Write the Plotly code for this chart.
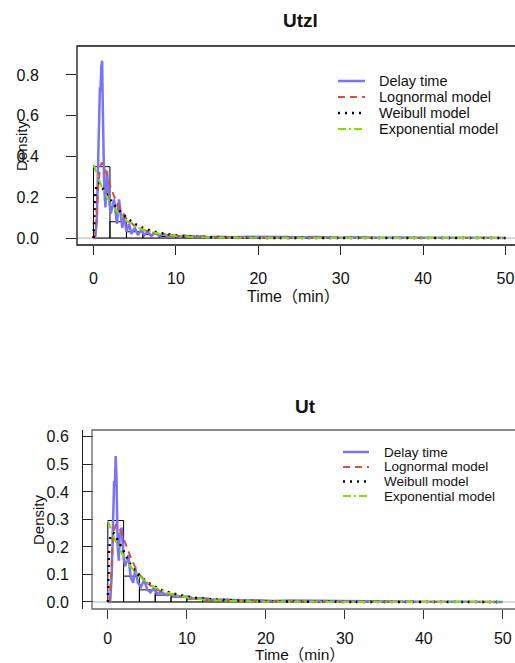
import plotly.graph_objects as go

W, H = 515, 663
OFF = 0  # body margin is removed in the page (see post_script)

# ---------------- data ----------------
bin_left = [0, 2, 4, 6, 8, 10, 12, 14, 16, 18, 20, 22, 24, 26, 28, 30, 32, 34, 36, 38, 40, 42, 44, 46, 48]

utzl_hist = [0.35, 0.08, 0.031, 0.018, 0.008, 0.005, 0.003, 0.002, 0.0015, 0.001, 0.001, 0.0008, 0.0006,
             0.0005, 0.0004, 0.0003, 0.0003, 0.0002, 0.0002, 0.0002, 0.0001, 0.0001, 0.0001, 0.0001, 0.0001]
ut_hist = [0.296, 0.094, 0.044, 0.025, 0.018, 0.011, 0.007, 0.005, 0.004, 0.003, 0.002, 0.0015, 0.0012,
           0.001, 0.0008, 0.0006, 0.0005, 0.0004, 0.0003, 0.0003, 0.0002, 0.0002, 0.0001, 0.0001, 0.0001]

utzl_delay_x = [0, 0.2, 0.4, 0.55, 0.7, 0.78, 0.85, 0.95, 1.05, 1.15, 1.3, 1.45, 1.65, 1.85, 2.1, 2.5, 2.85,
                3.1, 3.5, 3.7, 4.0, 4.3, 4.6, 5.0, 5.4, 5.8, 6.2, 6.6, 7.0, 7.5, 8.0, 8.5, 9.0, 9.5, 10.5,
                11, 12, 13, 14, 15, 17, 19, 21, 23, 25, 27, 30, 32, 35, 37, 40, 43, 45, 48, 50]
utzl_delay_y = [0, 0.0, 0.08, 0.3, 0.6, 0.74, 0.72, 0.84, 0.87, 0.6, 0.25, 0.15, 0.33, 0.2, 0.12, 0.19, 0.07,
                0.19, 0.05, 0.12, 0.03, 0.07, 0.02, 0.05, 0.015, 0.04, 0.015, 0.03, 0.01, 0.025, 0.01, 0.02,
                0.008, 0.015, 0.006, 0.012, 0.005, 0.008, 0.004, 0.007, 0.004, 0.006, 0.004, 0.005, 0.004,
                0.005, 0.002, 0.004, 0.001, 0.003, 0.001, 0.002, 0.0005, 0.001, 0.0]

utzl_logn_x = [0, 0.2, 0.4, 0.6, 0.8, 1.0, 1.3, 1.6, 2.0, 2.5, 3.0, 3.5, 4.0, 5.0, 6.0, 7, 8, 10, 12, 15, 20, 25, 30, 40, 50]
utzl_logn_y = [0, 0.01, 0.12, 0.27, 0.35, 0.37, 0.35, 0.31, 0.26, 0.205, 0.16, 0.125, 0.095, 0.06, 0.04, 0.028,
               0.02, 0.012, 0.008, 0.0045, 0.002, 0.001, 0.0006, 0.0002, 0.0001]

utzl_weib_x = [0, 0.1, 0.2, 0.35, 0.5, 0.7, 1.0, 1.5, 2.0, 2.5, 3.0, 4.0, 5.0, 6.0, 7.0, 8.0, 10, 12, 15, 20, 30, 50]
utzl_weib_y = [0, 0.12, 0.2, 0.25, 0.27, 0.27, 0.25, 0.22, 0.19, 0.165, 0.14, 0.1, 0.07, 0.05, 0.035, 0.025,
               0.013, 0.007, 0.003, 0.0008, 0.0001, 0.0]

utzl_exp_x = [0, 1, 2, 3, 4, 5, 6, 8, 10, 12, 15, 20, 30, 50]
utzl_exp_y = [0.36, 0.25, 0.175, 0.122, 0.085, 0.059, 0.041, 0.02, 0.0098, 0.0048, 0.0016, 0.0003, 0.0, 0.0]

ut_delay_x = [0, 0.3, 0.5, 0.65, 0.8, 0.9, 1.0, 1.1, 1.25, 1.4, 1.5, 1.75, 2.0, 2.2, 2.6, 2.9, 3.2, 3.5,
              3.8, 4.2, 4.6, 5.0, 5.4, 5.8, 6.3, 6.8, 7.5, 8.2, 9, 10, 11, 12, 13.5, 15, 17, 19, 21, 23, 26,
              28, 30, 32, 35, 38, 40, 45, 48, 50]
ut_delay_y = [0, 0.0, 0.1, 0.3, 0.44, 0.42, 0.53, 0.45, 0.2, 0.15, 0.24, 0.27, 0.16, 0.13, 0.17, 0.09, 0.07,
              0.12, 0.07, 0.055, 0.08, 0.045, 0.035, 0.05, 0.03, 0.035, 0.025, 0.028, 0.018, 0.02, 0.012,
              0.014, 0.008, 0.009, 0.005, 0.006, 0.004, 0.005, 0.004, 0.005, 0.002, 0.003, 0.001, 0.002,
              0.001, 0.0005, 0.001, 0.0]

ut_logn_x = [0, 0.2, 0.4, 0.6, 0.8, 1.0, 1.3, 1.6, 2.0, 2.5, 3.0, 3.5, 4.0, 5.0, 6.0, 7, 8, 10, 12, 15, 20, 25, 30, 40, 50]
ut_logn_y = [0, 0.005, 0.08, 0.2, 0.26, 0.28, 0.275, 0.26, 0.23, 0.19, 0.155, 0.125, 0.1, 0.068, 0.048, 0.035,
             0.027, 0.016, 0.01, 0.0055, 0.0025, 0.0012, 0.0007, 0.0003, 0.0001]

ut_weib_x = [0, 0.05, 0.15, 0.3, 0.5, 0.8, 1.2, 1.6, 2.0, 2.6, 3.0, 4.0, 5.0, 6.0, 7.0, 8.0, 10, 12, 15, 20, 25, 30, 40, 50]
ut_weib_y = [0, 0.1, 0.18, 0.23, 0.25, 0.25, 0.23, 0.205, 0.185, 0.15, 0.13, 0.095, 0.072, 0.055, 0.042, 0.033,
             0.02, 0.012, 0.006, 0.002, 0.0008, 0.0003, 0.0001, 0.0]

ut_exp_x = [0, 1, 2, 3, 4, 5, 6, 8, 10, 12, 15, 20, 30, 50]
ut_exp_y = [0.295, 0.22, 0.165, 0.125, 0.093, 0.07, 0.052, 0.029, 0.016, 0.009, 0.004, 0.001, 0.0001, 0.0]

x_ticks = [0, 10, 20, 30, 40, 50]
utzl_y_ticks = [0.0, 0.2, 0.4, 0.6, 0.8]
ut_y_ticks = [0.0, 0.1, 0.2, 0.3, 0.4, 0.5, 0.6]

series_names = ["Delay time", "Lognormal model", "Weibull model", "Exponential model"]

# ---------------- styles ----------------
BLUE = "#7b72fb"
RED = "#cf5340"
BLACK = "#000000"
GREEN = "#7ee000"
styles = [
    dict(color=BLUE, width=2.5, dash="solid"),
    dict(color=RED, width=2, dash="7px,5px"),
    dict(color=BLACK, width=2.5, dash="2px,5px"),
    dict(color=GREEN, width=2, dash="8px,3px,2px,3px"),
]
FONT = "Liberation Sans, Arial, Noto Sans CJK SC, sans-serif"


def px(xp):
    """page pixel x -> paper fraction"""
    return (xp - OFF) / W


def py(yp):
    """page pixel y -> paper fraction"""
    return (H - (yp - OFF)) / H


fig = go.Figure()

panels = [
    dict(xa="x", ya="y", hist=utzl_hist,
         curves=[(utzl_delay_x, utzl_delay_y), (utzl_logn_x, utzl_logn_y),
                 (utzl_weib_x, utzl_weib_y), (utzl_exp_x, utzl_exp_y)]),
    dict(xa="x2", ya="y2", hist=ut_hist,
         curves=[(ut_delay_x, ut_delay_y), (ut_logn_x, ut_logn_y),
                 (ut_weib_x, ut_weib_y), (ut_exp_x, ut_exp_y)]),
]

for p in panels:
    fig.add_trace(go.Bar(x=bin_left, y=p["hist"], offset=0, width=2, xaxis=p["xa"], yaxis=p["ya"],
                         marker=dict(color="rgba(0,0,0,0)", line=dict(color="black", width=1)),
                         showlegend=False, hoverinfo="skip"))
    for (cx, cy), st, nm in zip(p["curves"], styles, series_names):
        fig.add_trace(go.Scatter(x=cx, y=cy, mode="lines", name=nm, xaxis=p["xa"], yaxis=p["ya"],
                                 line=dict(color=st["color"], width=st["width"], dash=st["dash"]),
                                 showlegend=False))

# geometry (page pixels); the right edge of each box lies just past the picture
RIGHT = W + OFF
top = dict(left=77, top=46, bottom=245, xr=[-2, -2 + (RIGHT - 77) / 8.24], yr=[-0.034, 0.942])
bot = dict(left=92, top=430, bottom=609, xr=[-2, -2 + (RIGHT - 92) / 7.9], yr=[-0.0255, 0.625])

axis_font = dict(family=FONT, size=16, color="#111")

fig.update_layout(
    width=W, height=H, autosize=False,
    margin=dict(l=0, r=0, t=0, b=0, autoexpand=False),
    paper_bgcolor="white", plot_bgcolor="white",
    barmode="overlay", showlegend=False,
    xaxis=dict(domain=[px(top["left"]), 1], range=top["xr"], anchor="y", automargin=False,
               tickvals=x_ticks, ticks="outside", ticklen=9, tickcolor="#222", tickwidth=1,
               ticklabelstandoff=10, tickfont=axis_font, showgrid=False, zeroline=False, showline=False),
    yaxis=dict(domain=[py(top["bottom"]), py(top["top"])], range=top["yr"], anchor="x", automargin=False,
               tickvals=utzl_y_ticks, ticktext=[f"{v:.1f}" for v in utzl_y_ticks],
               ticks="outside", ticklen=10, tickcolor="#222", tickwidth=1,
               ticklabelstandoff=24, tickfont=axis_font, showgrid=False, zeroline=False, showline=False),
    xaxis2=dict(domain=[px(bot["left"]), 1], range=bot["xr"], anchor="y2", automargin=False,
                tickvals=x_ticks, ticks="outside", ticklen=9, tickcolor="#333", tickwidth=1,
                ticklabelstandoff=6, tickfont=axis_font, showgrid=False, zeroline=False, showline=False),
    yaxis2=dict(domain=[py(bot["bottom"]), py(bot["top"])], range=bot["yr"], anchor="free",
                position=px(82), side="left", automargin=False,
                tickvals=ut_y_ticks, ticktext=[f"{v:.1f}" for v in ut_y_ticks],
                ticks="inside", ticklen=10, tickcolor="#222", tickwidth=1,
                ticklabelstandoff=10, tickfont=axis_font, showgrid=False, zeroline=False,
                showline=True, linecolor="#222", linewidth=1),
)

shapes = []
# plot boxes (right edge lies outside the picture)
for g, col in ((top, "#111"), (bot, "#666")):
    shapes.append(dict(type="rect", xref="paper", yref="paper", x0=px(g["left"]), x1=1.05,
                       y0=py(g["bottom"]), y1=py(g["top"]), line=dict(color=col, width=1.3),
                       fillcolor="rgba(0,0,0,0)", layer="above"))
# zero lines
shapes.append(dict(type="line", xref="paper", yref="y", x0=px(top["left"]), x1=1, y0=0, y1=0,
                   line=dict(color="#b0b0b0", width=1), layer="below"))
shapes.append(dict(type="line", xref="paper", yref="y2", x0=px(bot["left"]), x1=1, y0=0, y1=0,
                   line=dict(color="#b0b0b0", width=1), layer="below"))

annotations = []
# manual legends
legends = [
    dict(x0=338, x1=365, tx=377, ys=[81, 97, 113, 129], size=14.5),
    dict(x0=343, x1=369, tx=382, ys=[452, 467, 481.5, 496], size=13.5),
]
for lg in legends:
    for st, nm, yy in zip(styles, series_names, lg["ys"]):
        shapes.append(dict(type="line", xref="paper", yref="paper", x0=px(lg["x0"]), x1=px(lg["x1"]),
                           y0=py(yy), y1=py(yy),
                           line=dict(color=st["color"], width=st["width"], dash=st["dash"])))
        annotations.append(dict(text=nm, xref="paper", yref="paper", x=px(lg["tx"]), y=py(yy),
                                xanchor="left", yanchor="middle", showarrow=False,
                                font=dict(family=FONT, size=lg["size"], color="#111")))

# titles and axis titles
annotations += [
    dict(text="<b>Utzl</b>", x=px(300), y=py(20), xref="paper", yref="paper", showarrow=False,
         xanchor="center", yanchor="middle", font=dict(family=FONT, size=19, color="#111")),
    dict(text="<b>Ut</b>", x=px(305), y=py(406), xref="paper", yref="paper", showarrow=False,
         xanchor="center", yanchor="middle", font=dict(family=FONT, size=19, color="#111")),
    dict(text="Time（min）", x=px(293), y=py(296), xref="paper", yref="paper", showarrow=False,
         xanchor="center", yanchor="middle", font=dict(family=FONT, size=16, color="#111")),
    dict(text="Time（min）", x=px(300), y=py(654.5), xref="paper", yref="paper", showarrow=False,
         xanchor="center", yanchor="middle", font=dict(family=FONT, size=15.5, color="#111")),
    dict(text="Density", x=px(21), y=py(146), xref="paper", yref="paper", showarrow=False, textangle=-90,
         xanchor="center", yanchor="middle", font=dict(family=FONT, size=15, color="#111")),
    dict(text="Density", x=px(38), y=py(520), xref="paper", yref="paper", showarrow=False, textangle=-90,
         xanchor="center", yanchor="middle", font=dict(family=FONT, size=15, color="#111")),
]

fig.update_layout(shapes=shapes, annotations=annotations)
fig.write_html("out.html", default_width=f"{W}px", default_height=f"{H}px",
               config={"displayModeBar": False},
               post_script="document.body.style.margin='0';document.body.style.overflow='hidden';")
